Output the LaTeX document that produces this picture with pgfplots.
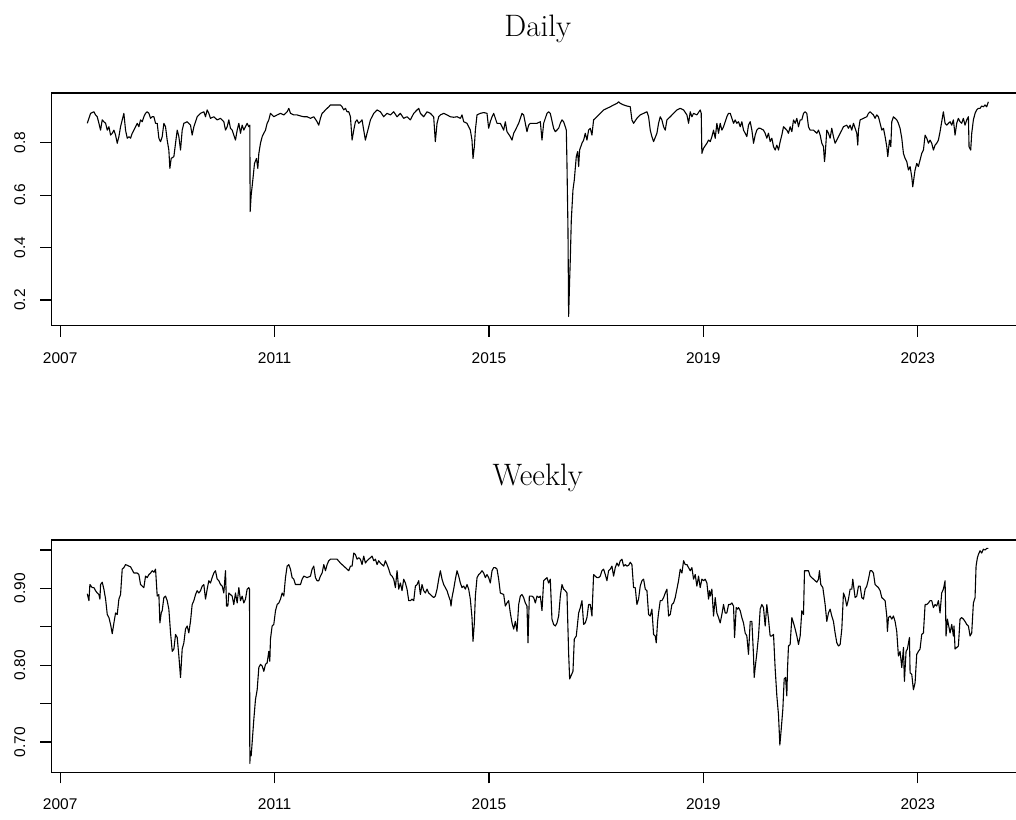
\documentclass[border=0pt]{standalone}
\usepackage{fontspec}
\usepackage{pgfplots}
\pgfplotsset{compat=1.18}
\newfontfamily\helv{Liberation Sans}
\begin{document}
\begin{tikzpicture}
\pgfplotsset{
  every axis title shift=0pt,
  rplot/.style={
    anchor=south west, scale only axis, width=973.2pt,
    tick pos=left, tick align=outside, major tick length=11pt,
    axis line style={line width=1.2pt, black},
    every tick/.style={line width=1.1pt, black},
    xtick={2007,2011,2015,2019,2023},
    xticklabels={2007,2011,2015,2019,2023},
    xmin=2006.832, xmax=2024.99,
    ticklabel style={font=\helv\fontsize{15.5}{18}\selectfont, text=black},
    yticklabel style={rotate=90, anchor=south},
    xticklabel shift=12pt, yticklabel shift=11.5pt,
    title style={font=\fontsize{31}{37}\selectfont, anchor=base, at={(0.5,1)}},
    clip=false,
  },
  rline/.style={black, line width=1.1pt, line join=round, mark=none},
}
\begin{axis}[rplot, at={(51.2pt,493.3pt)}, height=232.7pt,
  ymin=0.102, ymax=0.9896,
  ytick={0.2,0.4,0.6,0.8}, yticklabels={0.2,0.4,0.6,0.8},
  title={Daily}, title style={yshift=56pt}]
\addplot[rline] table {
2007.505 0.874
2007.536 0.893
2007.567 0.912
2007.629 0.918
2007.660 0.906
2007.691 0.899
2007.722 0.874
2007.753 0.848
2007.784 0.887
2007.815 0.880
2007.847 0.874
2007.878 0.848
2007.909 0.861
2007.940 0.829
2007.971 0.836
2008.002 0.848
2008.033 0.829
2008.064 0.798
2008.095 0.823
2008.126 0.861
2008.157 0.887
2008.188 0.912
2008.219 0.848
2008.251 0.817
2008.282 0.823
2008.313 0.817
2008.344 0.836
2008.375 0.848
2008.406 0.861
2008.437 0.874
2008.468 0.861
2008.499 0.887
2008.530 0.880
2008.561 0.899
2008.592 0.912
2008.623 0.918
2008.655 0.912
2008.686 0.893
2008.717 0.899
2008.748 0.899
2008.779 0.874
2008.810 0.874
2008.841 0.817
2008.872 0.804
2008.903 0.823
2008.934 0.874
2008.965 0.861
2008.996 0.810
2009.027 0.772
2009.046 0.702
2009.071 0.740
2009.121 0.747
2009.152 0.798
2009.183 0.848
2009.214 0.823
2009.245 0.772
2009.276 0.848
2009.307 0.874
2009.369 0.880
2009.431 0.867
2009.462 0.829
2009.494 0.861
2009.556 0.899
2009.618 0.912
2009.680 0.918
2009.711 0.899
2009.742 0.925
2009.773 0.912
2009.804 0.893
2009.866 0.899
2009.929 0.887
2009.991 0.893
2010.053 0.880
2010.084 0.848
2010.115 0.861
2010.146 0.887
2010.177 0.855
2010.208 0.848
2010.239 0.829
2010.270 0.810
2010.302 0.848
2010.333 0.874
2010.364 0.836
2010.395 0.867
2010.426 0.848
2010.457 0.861
2010.488 0.874
2010.519 0.861
2010.538 0.867
2010.544 0.537
2010.563 0.600
2010.594 0.658
2010.625 0.721
2010.662 0.740
2010.687 0.702
2010.706 0.759
2010.737 0.798
2010.768 0.823
2010.799 0.836
2010.830 0.848
2010.861 0.874
2010.892 0.887
2010.923 0.912
2010.985 0.899
2011.048 0.906
2011.110 0.912
2011.172 0.906
2011.234 0.918
2011.265 0.931
2011.296 0.912
2011.358 0.906
2011.420 0.906
2011.483 0.902
2011.545 0.899
2011.607 0.899
2011.669 0.893
2011.731 0.899
2011.793 0.880
2011.824 0.867
2011.855 0.893
2011.887 0.912
2011.918 0.918
2011.949 0.925
2011.980 0.931
2012.011 0.937
2012.042 0.944
2012.104 0.944
2012.166 0.944
2012.228 0.944
2012.259 0.937
2012.290 0.925
2012.322 0.931
2012.353 0.918
2012.384 0.918
2012.415 0.899
2012.446 0.810
2012.477 0.848
2012.508 0.880
2012.539 0.887
2012.570 0.874
2012.601 0.880
2012.632 0.887
2012.663 0.848
2012.694 0.810
2012.725 0.836
2012.757 0.861
2012.788 0.887
2012.850 0.912
2012.912 0.925
2012.974 0.918
2013.036 0.899
2013.098 0.912
2013.161 0.906
2013.223 0.918
2013.285 0.899
2013.347 0.912
2013.409 0.893
2013.471 0.899
2013.533 0.887
2013.596 0.912
2013.658 0.925
2013.689 0.931
2013.720 0.912
2013.782 0.899
2013.844 0.918
2013.906 0.912
2013.968 0.899
2013.999 0.804
2014.031 0.874
2014.062 0.899
2014.093 0.906
2014.155 0.912
2014.217 0.906
2014.279 0.899
2014.341 0.897
2014.404 0.899
2014.466 0.893
2014.497 0.906
2014.528 0.880
2014.590 0.874
2014.652 0.848
2014.683 0.810
2014.702 0.740
2014.727 0.785
2014.746 0.848
2014.777 0.906
2014.839 0.912
2014.901 0.915
2014.963 0.912
2014.994 0.855
2015.025 0.880
2015.057 0.899
2015.088 0.912
2015.119 0.893
2015.150 0.874
2015.212 0.874
2015.274 0.848
2015.305 0.880
2015.336 0.842
2015.398 0.823
2015.430 0.810
2015.461 0.836
2015.492 0.848
2015.554 0.874
2015.616 0.912
2015.647 0.906
2015.678 0.874
2015.709 0.842
2015.740 0.867
2015.771 0.874
2015.834 0.874
2015.896 0.874
2015.958 0.880
2015.989 0.810
2016.020 0.874
2016.082 0.912
2016.113 0.918
2016.144 0.912
2016.206 0.855
2016.238 0.842
2016.300 0.855
2016.331 0.874
2016.362 0.887
2016.393 0.880
2016.424 0.861
2016.443 0.848
2016.455 0.721
2016.474 0.467
2016.486 0.137
2016.505 0.276
2016.517 0.353
2016.536 0.505
2016.567 0.620
2016.592 0.658
2016.629 0.747
2016.654 0.766
2016.673 0.709
2016.691 0.772
2016.735 0.798
2016.766 0.810
2016.797 0.836
2016.828 0.810
2016.859 0.848
2016.890 0.855
2016.921 0.829
2016.952 0.887
2017.014 0.899
2017.076 0.912
2017.139 0.925
2017.201 0.931
2017.263 0.937
2017.325 0.944
2017.387 0.950
2017.418 0.956
2017.450 0.950
2017.512 0.944
2017.574 0.940
2017.636 0.937
2017.667 0.887
2017.698 0.874
2017.760 0.893
2017.822 0.906
2017.885 0.912
2017.947 0.918
2017.978 0.899
2018.009 0.848
2018.040 0.823
2018.071 0.804
2018.133 0.836
2018.164 0.874
2018.195 0.899
2018.226 0.887
2018.258 0.861
2018.289 0.848
2018.320 0.887
2018.382 0.899
2018.444 0.912
2018.506 0.925
2018.568 0.931
2018.631 0.925
2018.693 0.906
2018.724 0.874
2018.755 0.918
2018.786 0.899
2018.817 0.912
2018.879 0.906
2018.941 0.925
2018.960 0.912
2018.972 0.759
2019.003 0.779
2019.066 0.798
2019.097 0.810
2019.128 0.804
2019.159 0.823
2019.190 0.848
2019.221 0.817
2019.252 0.874
2019.283 0.836
2019.314 0.874
2019.345 0.848
2019.376 0.861
2019.438 0.899
2019.470 0.912
2019.501 0.912
2019.563 0.874
2019.594 0.887
2019.625 0.874
2019.656 0.880
2019.687 0.861
2019.718 0.880
2019.749 0.848
2019.780 0.836
2019.811 0.823
2019.842 0.867
2019.874 0.880
2019.905 0.848
2019.936 0.798
2019.967 0.829
2019.998 0.848
2020.029 0.855
2020.060 0.855
2020.122 0.848
2020.153 0.836
2020.184 0.817
2020.215 0.836
2020.246 0.804
2020.278 0.817
2020.309 0.785
2020.340 0.772
2020.371 0.791
2020.402 0.772
2020.433 0.804
2020.464 0.829
2020.495 0.861
2020.557 0.848
2020.588 0.836
2020.619 0.861
2020.651 0.842
2020.682 0.887
2020.713 0.874
2020.744 0.893
2020.775 0.861
2020.806 0.887
2020.837 0.887
2020.868 0.912
2020.899 0.918
2020.930 0.912
2020.961 0.861
2020.992 0.848
2021.054 0.848
2021.086 0.842
2021.117 0.836
2021.148 0.848
2021.179 0.829
2021.210 0.798
2021.241 0.785
2021.260 0.728
2021.272 0.753
2021.303 0.848
2021.334 0.836
2021.365 0.817
2021.396 0.855
2021.427 0.823
2021.458 0.798
2021.490 0.810
2021.521 0.823
2021.552 0.836
2021.583 0.848
2021.614 0.861
2021.676 0.867
2021.707 0.855
2021.738 0.867
2021.769 0.848
2021.800 0.874
2021.831 0.855
2021.862 0.836
2021.881 0.791
2021.894 0.848
2021.925 0.887
2021.987 0.893
2022.049 0.899
2022.080 0.912
2022.111 0.918
2022.142 0.912
2022.173 0.906
2022.204 0.893
2022.235 0.906
2022.266 0.899
2022.298 0.874
2022.329 0.848
2022.360 0.855
2022.391 0.823
2022.422 0.785
2022.441 0.747
2022.472 0.810
2022.497 0.785
2022.515 0.880
2022.546 0.899
2022.577 0.893
2022.608 0.887
2022.639 0.874
2022.670 0.855
2022.702 0.817
2022.733 0.759
2022.764 0.740
2022.795 0.728
2022.826 0.696
2022.857 0.709
2022.888 0.670
2022.907 0.632
2022.932 0.670
2022.950 0.696
2022.981 0.721
2023.012 0.709
2023.043 0.734
2023.074 0.759
2023.106 0.772
2023.137 0.829
2023.168 0.817
2023.199 0.798
2023.230 0.810
2023.261 0.798
2023.292 0.772
2023.323 0.791
2023.354 0.798
2023.385 0.810
2023.416 0.842
2023.447 0.880
2023.478 0.918
2023.510 0.874
2023.541 0.867
2023.572 0.874
2023.603 0.880
2023.634 0.867
2023.665 0.887
2023.696 0.829
2023.727 0.874
2023.758 0.893
2023.789 0.880
2023.820 0.874
2023.851 0.893
2023.882 0.867
2023.913 0.887
2023.945 0.899
2023.957 0.785
2023.988 0.772
2024.007 0.836
2024.038 0.887
2024.069 0.912
2024.100 0.925
2024.131 0.931
2024.162 0.931
2024.193 0.940
2024.224 0.937
2024.255 0.944
2024.286 0.937
2024.317 0.956
};
\end{axis}
\begin{axis}[rplot, at={(51.2pt,46.7pt)}, height=232.3pt,
  ymin=0.6605, ymax=0.963,
  ytick={0.70,0.75,0.80,0.85,0.90,0.95}, yticklabels={0.70,,0.80,,0.90,},
  title={Weekly}, title style={yshift=54pt}]
\addplot[rline] table {
2007.505 0.893
2007.536 0.884
2007.554 0.905
2007.598 0.901
2007.629 0.901
2007.660 0.897
2007.691 0.894
2007.722 0.892
2007.741 0.886
2007.753 0.905
2007.784 0.908
2007.815 0.899
2007.847 0.886
2007.878 0.866
2007.909 0.862
2007.940 0.853
2007.971 0.841
2008.002 0.855
2008.033 0.868
2008.064 0.866
2008.095 0.886
2008.126 0.892
2008.157 0.925
2008.188 0.927
2008.219 0.931
2008.251 0.930
2008.313 0.928
2008.375 0.920
2008.437 0.920
2008.468 0.918
2008.499 0.905
2008.530 0.903
2008.561 0.901
2008.592 0.916
2008.623 0.914
2008.655 0.918
2008.686 0.920
2008.717 0.923
2008.748 0.921
2008.779 0.925
2008.810 0.890
2008.841 0.892
2008.860 0.855
2008.885 0.868
2008.903 0.871
2008.934 0.888
2008.965 0.890
2008.996 0.884
2009.027 0.873
2009.059 0.842
2009.090 0.818
2009.121 0.821
2009.152 0.840
2009.183 0.836
2009.214 0.812
2009.245 0.784
2009.276 0.821
2009.307 0.829
2009.338 0.847
2009.369 0.851
2009.400 0.842
2009.431 0.857
2009.462 0.879
2009.494 0.884
2009.525 0.892
2009.556 0.897
2009.587 0.894
2009.618 0.897
2009.649 0.903
2009.680 0.905
2009.711 0.886
2009.742 0.899
2009.773 0.910
2009.804 0.907
2009.835 0.914
2009.866 0.920
2009.897 0.923
2009.929 0.912
2009.960 0.910
2009.991 0.905
2010.022 0.903
2010.053 0.894
2010.084 0.923
2010.103 0.877
2010.128 0.877
2010.146 0.894
2010.177 0.892
2010.208 0.890
2010.239 0.879
2010.270 0.894
2010.302 0.881
2010.333 0.901
2010.364 0.884
2010.395 0.890
2010.426 0.881
2010.457 0.886
2010.488 0.899
2010.519 0.901
2010.532 0.899
2010.538 0.672
2010.550 0.688
2010.563 0.682
2010.581 0.699
2010.612 0.729
2010.643 0.755
2010.675 0.768
2010.706 0.797
2010.737 0.801
2010.768 0.799
2010.799 0.792
2010.830 0.801
2010.861 0.803
2010.892 0.818
2010.911 0.805
2010.923 0.834
2010.954 0.851
2010.985 0.853
2011.017 0.871
2011.048 0.879
2011.079 0.881
2011.110 0.886
2011.141 0.894
2011.172 0.890
2011.203 0.914
2011.234 0.929
2011.265 0.931
2011.296 0.925
2011.327 0.914
2011.358 0.912
2011.389 0.905
2011.420 0.905
2011.483 0.905
2011.514 0.912
2011.545 0.916
2011.607 0.914
2011.669 0.916
2011.700 0.925
2011.731 0.929
2011.762 0.914
2011.793 0.910
2011.824 0.910
2011.855 0.916
2011.887 0.920
2011.918 0.931
2011.949 0.923
2011.980 0.931
2012.011 0.936
2012.042 0.938
2012.104 0.938
2012.166 0.938
2012.228 0.933
2012.290 0.929
2012.353 0.925
2012.384 0.923
2012.415 0.929
2012.446 0.929
2012.477 0.946
2012.508 0.944
2012.539 0.938
2012.570 0.940
2012.601 0.938
2012.632 0.931
2012.663 0.942
2012.694 0.933
2012.725 0.936
2012.788 0.940
2012.819 0.942
2012.850 0.936
2012.881 0.938
2012.912 0.931
2012.943 0.936
2012.974 0.933
2013.036 0.929
2013.067 0.936
2013.098 0.931
2013.130 0.925
2013.161 0.918
2013.192 0.916
2013.223 0.912
2013.254 0.901
2013.285 0.923
2013.316 0.899
2013.347 0.907
2013.378 0.897
2013.409 0.912
2013.440 0.907
2013.471 0.899
2013.503 0.884
2013.533 0.884
2013.565 0.886
2013.596 0.884
2013.627 0.903
2013.658 0.905
2013.689 0.910
2013.720 0.892
2013.751 0.905
2013.782 0.897
2013.813 0.894
2013.844 0.899
2013.875 0.894
2013.906 0.892
2013.937 0.890
2013.968 0.888
2013.999 0.890
2014.031 0.899
2014.062 0.912
2014.093 0.923
2014.124 0.912
2014.155 0.905
2014.186 0.901
2014.217 0.897
2014.248 0.890
2014.279 0.884
2014.292 0.877
2014.310 0.888
2014.341 0.899
2014.373 0.912
2014.404 0.923
2014.435 0.916
2014.466 0.907
2014.497 0.901
2014.528 0.903
2014.559 0.899
2014.590 0.905
2014.621 0.899
2014.652 0.886
2014.683 0.862
2014.702 0.831
2014.727 0.855
2014.746 0.890
2014.777 0.914
2014.808 0.918
2014.839 0.920
2014.870 0.923
2014.901 0.920
2014.932 0.914
2014.963 0.918
2014.994 0.914
2015.025 0.907
2015.057 0.923
2015.088 0.927
2015.119 0.927
2015.150 0.925
2015.181 0.912
2015.212 0.894
2015.274 0.892
2015.305 0.877
2015.336 0.881
2015.367 0.884
2015.398 0.868
2015.430 0.855
2015.461 0.847
2015.492 0.857
2015.523 0.844
2015.554 0.879
2015.585 0.890
2015.616 0.892
2015.647 0.888
2015.678 0.881
2015.709 0.877
2015.728 0.829
2015.753 0.890
2015.802 0.890
2015.834 0.888
2015.865 0.881
2015.896 0.890
2015.927 0.888
2015.958 0.890
2015.989 0.871
2016.020 0.910
2016.051 0.912
2016.082 0.914
2016.113 0.907
2016.144 0.912
2016.175 0.860
2016.206 0.853
2016.238 0.851
2016.269 0.855
2016.300 0.864
2016.331 0.890
2016.362 0.905
2016.393 0.899
2016.424 0.897
2016.455 0.894
2016.486 0.816
2016.505 0.782
2016.530 0.786
2016.567 0.792
2016.592 0.834
2016.629 0.838
2016.673 0.868
2016.704 0.875
2016.735 0.884
2016.766 0.853
2016.797 0.855
2016.828 0.862
2016.859 0.879
2016.890 0.879
2016.921 0.864
2016.952 0.918
2016.983 0.916
2017.014 0.914
2017.045 0.914
2017.076 0.916
2017.108 0.923
2017.139 0.925
2017.170 0.918
2017.201 0.910
2017.232 0.923
2017.263 0.925
2017.294 0.929
2017.325 0.916
2017.356 0.927
2017.387 0.933
2017.418 0.929
2017.450 0.936
2017.481 0.938
2017.512 0.929
2017.543 0.931
2017.574 0.929
2017.605 0.930
2017.636 0.934
2017.667 0.931
2017.698 0.901
2017.729 0.901
2017.760 0.879
2017.791 0.886
2017.822 0.903
2017.854 0.910
2017.885 0.912
2017.916 0.899
2017.947 0.897
2017.978 0.866
2018.009 0.864
2018.040 0.873
2018.071 0.840
2018.102 0.838
2018.121 0.829
2018.146 0.857
2018.164 0.868
2018.195 0.884
2018.226 0.884
2018.258 0.888
2018.289 0.894
2018.320 0.899
2018.351 0.864
2018.382 0.866
2018.413 0.879
2018.444 0.881
2018.475 0.888
2018.506 0.899
2018.537 0.910
2018.568 0.925
2018.600 0.920
2018.631 0.936
2018.662 0.931
2018.693 0.931
2018.724 0.927
2018.755 0.923
2018.786 0.927
2018.817 0.912
2018.848 0.918
2018.879 0.903
2018.910 0.916
2018.941 0.901
2018.972 0.912
2019.003 0.910
2019.034 0.912
2019.066 0.907
2019.097 0.886
2019.115 0.897
2019.128 0.890
2019.159 0.899
2019.190 0.864
2019.221 0.888
2019.252 0.868
2019.283 0.862
2019.314 0.855
2019.345 0.866
2019.376 0.879
2019.407 0.868
2019.438 0.868
2019.470 0.879
2019.501 0.879
2019.532 0.881
2019.563 0.877
2019.582 0.836
2019.613 0.875
2019.637 0.873
2019.656 0.875
2019.687 0.871
2019.718 0.862
2019.749 0.855
2019.780 0.842
2019.811 0.838
2019.842 0.814
2019.874 0.857
2019.905 0.857
2019.936 0.812
2019.948 0.784
2019.967 0.797
2019.998 0.816
2020.029 0.838
2020.060 0.873
2020.091 0.879
2020.122 0.875
2020.153 0.851
2020.184 0.879
2020.215 0.860
2020.246 0.838
2020.278 0.838
2020.309 0.840
2020.340 0.795
2020.371 0.760
2020.402 0.735
2020.427 0.696
2020.452 0.716
2020.483 0.743
2020.508 0.782
2020.533 0.784
2020.557 0.760
2020.570 0.795
2020.588 0.825
2020.619 0.827
2020.651 0.862
2020.682 0.855
2020.713 0.847
2020.744 0.838
2020.775 0.827
2020.806 0.838
2020.837 0.871
2020.868 0.866
2020.887 0.923
2020.930 0.923
2020.961 0.923
2020.992 0.916
2021.023 0.914
2021.054 0.912
2021.086 0.910
2021.117 0.908
2021.148 0.912
2021.166 0.923
2021.191 0.905
2021.229 0.901
2021.272 0.879
2021.303 0.857
2021.334 0.868
2021.365 0.873
2021.396 0.864
2021.427 0.857
2021.458 0.842
2021.490 0.829
2021.521 0.825
2021.552 0.827
2021.583 0.847
2021.614 0.894
2021.645 0.888
2021.676 0.877
2021.707 0.886
2021.738 0.899
2021.769 0.899
2021.788 0.912
2021.800 0.905
2021.831 0.888
2021.862 0.890
2021.894 0.903
2021.925 0.903
2021.956 0.888
2021.987 0.886
2022.018 0.899
2022.049 0.903
2022.080 0.912
2022.111 0.923
2022.142 0.923
2022.173 0.920
2022.204 0.905
2022.235 0.903
2022.266 0.901
2022.298 0.897
2022.329 0.888
2022.360 0.886
2022.391 0.884
2022.422 0.864
2022.434 0.844
2022.453 0.862
2022.484 0.864
2022.515 0.860
2022.546 0.864
2022.577 0.857
2022.608 0.844
2022.639 0.812
2022.670 0.818
2022.702 0.797
2022.733 0.823
2022.751 0.779
2022.782 0.818
2022.807 0.821
2022.845 0.836
2022.857 0.790
2022.888 0.788
2022.919 0.768
2022.950 0.777
2022.981 0.814
2023.012 0.818
2023.043 0.821
2023.074 0.840
2023.106 0.842
2023.137 0.879
2023.168 0.879
2023.199 0.881
2023.230 0.884
2023.261 0.884
2023.292 0.875
2023.323 0.879
2023.354 0.877
2023.385 0.884
2023.416 0.868
2023.447 0.894
2023.478 0.899
2023.510 0.910
2023.528 0.838
2023.553 0.860
2023.572 0.853
2023.603 0.842
2023.634 0.853
2023.665 0.838
2023.677 0.851
2023.696 0.821
2023.727 0.823
2023.758 0.825
2023.789 0.860
2023.820 0.862
2023.851 0.860
2023.882 0.857
2023.913 0.853
2023.945 0.851
2023.976 0.838
2024.007 0.842
2024.038 0.881
2024.069 0.888
2024.088 0.929
2024.113 0.940
2024.131 0.944
2024.162 0.949
2024.193 0.946
2024.224 0.951
2024.255 0.950
2024.286 0.952
2024.317 0.952
};
\end{axis}
\pgfresetboundingbox
\path[use as bounding box] (0,0) rectangle (1016pt,819pt);
\end{tikzpicture}
\end{document}
